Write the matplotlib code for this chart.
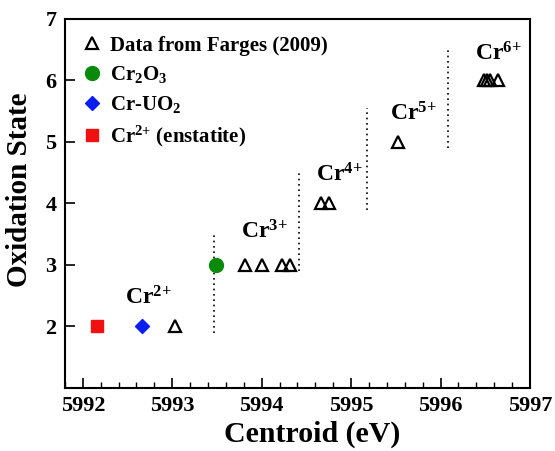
import matplotlib
matplotlib.use('Agg')
import matplotlib.pyplot as plt
from matplotlib.ticker import MultipleLocator

plt.rcParams['font.family'] = 'Liberation Serif'
plt.rcParams['font.weight'] = 'bold'
plt.rcParams['mathtext.fontset'] = 'custom'
plt.rcParams['mathtext.rm'] = 'Liberation Serif:bold'
plt.rcParams['mathtext.bf'] = 'Liberation Serif:bold'
plt.rcParams['mathtext.it'] = 'Liberation Serif:bold'

# Farges (2009) reference data
farges_x = [5993.03, 5993.81, 5994.00, 5994.23, 5994.32, 5994.66, 5994.75,
            5995.52, 5996.49, 5996.52, 5996.55, 5996.64]
farges_y = [2, 3, 3, 3, 3, 4, 4, 5, 6, 6, 6, 6]

cr2o3_x, cr2o3_y = [5993.49], [3]
cruo2_x, cruo2_y = [5992.66], [2]
enst_x, enst_y = [5992.16], [2]

# dotted separators: x, y_low, y_high
sep_x = [5993.47, 5994.42, 5995.18, 5996.08]
sep_lo = [1.9, 2.9, 3.9, 4.9]
sep_hi = [3.5, 4.5, 5.55, 6.5]

# oxidation state labels (left edge, baseline)
lab_text = ['2', '3', '4', '5', '6']
lab_x = [5992.47, 5993.77, 5994.61, 5995.44, 5996.39]
lab_y = [2.36, 3.43, 4.36, 5.35, 6.33]

fig, ax = plt.subplots(figsize=(5.55, 4.51), dpi=100)
fig.subplots_adjust(left=0.117, right=0.955, top=0.958, bottom=0.14)

for x, lo, hi in zip(sep_x, sep_lo, sep_hi):
    ax.plot([x, x], [lo, hi], color='black', linestyle=(0, (1, 2.2)), linewidth=1.2)

ax.plot(farges_x, farges_y, linestyle='none', marker='^', markersize=9,
        markerfacecolor='none', markeredgecolor='black', markeredgewidth=1.6,
        label='Data from Farges (2009)')
ax.plot(cr2o3_x, cr2o3_y, linestyle='none', marker='o', markersize=10,
        color='#0a8a0a', label=r'Cr$_2$O$_3$')
ax.plot(cruo2_x, cruo2_y, linestyle='none', marker='D', markersize=7,
        color='#0a1ef0', label=r'Cr-UO$_2$')
ax.plot(enst_x, enst_y, linestyle='none', marker='s', markersize=8.5,
        color='#f01010', label=r'Cr$^{2{+}}$ (enstatite)')

for t, x, y in zip(lab_text, lab_x, lab_y):
    ax.text(x, y, r'Cr$^{' + t + '{+}}$', fontsize=17, fontweight='bold',
            ha='left', va='baseline')

ax.set_xlim(5991.8, 5997)
ax.set_ylim(1, 7)
ax.xaxis.set_major_locator(MultipleLocator(1))
ax.xaxis.set_minor_locator(MultipleLocator(0.2))
ax.set_yticks([2, 3, 4, 5, 6, 7])
ax.tick_params(axis='both', which='major', direction='in', length=7, width=1.2,
               labelsize=16, pad=6)
ax.tick_params(axis='both', which='minor', direction='in', length=4, width=1.0)
ax.tick_params(top=False, right=False)
for s in ax.spines.values():
    s.set_linewidth(1.5)

ax.set_xlabel('Centroid (eV)', fontsize=21.5, fontweight='bold')
ax.set_ylabel('Oxidation State', fontsize=21, fontweight='bold')
ax.xaxis.set_label_coords(0.531, -0.088)
ax.yaxis.set_label_coords(-0.068, 0.537)

ax.legend(loc='upper left', frameon=False, handletextpad=0.35,
          borderaxespad=0.4, labelspacing=0.42, handlelength=1.0,
          bbox_to_anchor=(0.0, 1.0),
          prop={'weight': 'bold', 'size': 15})

fig.savefig('out.png', dpi=100)
